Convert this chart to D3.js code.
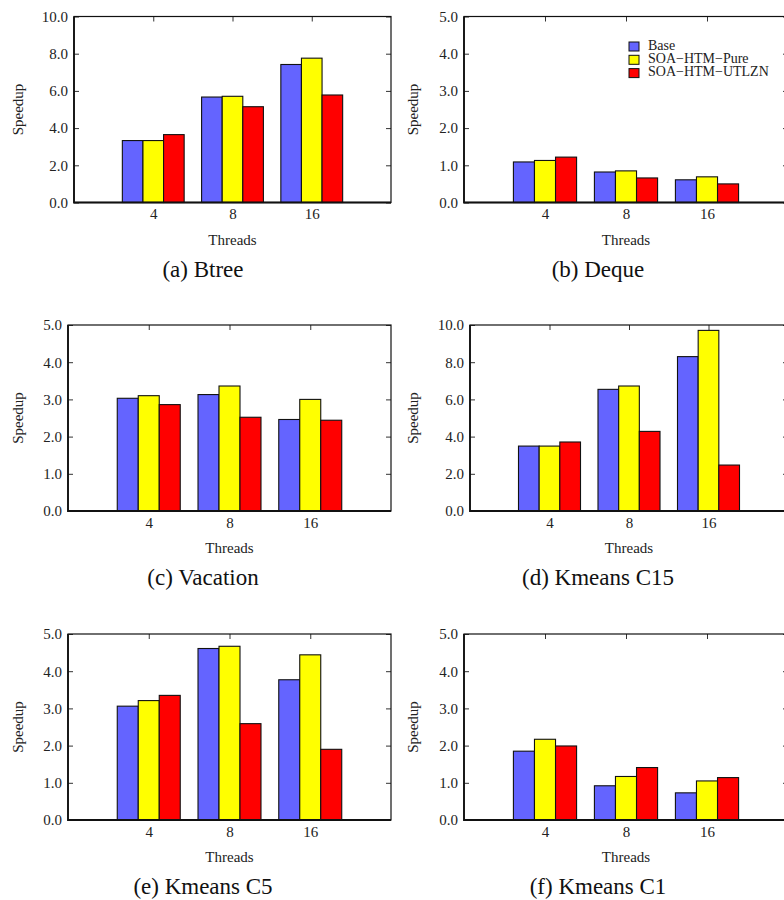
<!DOCTYPE html>
<html>
<head>
<meta charset="utf-8">
<script src="https://cdn.jsdelivr.net/npm/d3@7"></script>
<style>
  body { margin: 0; background: #fff; }
  svg { display: block; }
</style>
</head>
<body>
<svg id="chart"></svg>
<script>
// thread counts on the x axis
var threads = ["4", "8", "16"]
var seriesNames = ["Base", "SOA\u2212HTM\u2212Pure", "SOA\u2212HTM\u2212UTLZN"]

// speedup values, one array per series, per benchmark
var btreeBase  = [3.33, 5.67, 7.42]
var btreePure  = [3.33, 5.71, 7.76]
var btreeUtlzn = [3.65, 5.15, 5.78]

var dequeBase  = [1.09, 0.82, 0.61]
var dequePure  = [1.13, 0.85, 0.69]
var dequeUtlzn = [1.22, 0.66, 0.50]

var vacationBase  = [3.03, 3.13, 2.46]
var vacationPure  = [3.10, 3.36, 3.00]
var vacationUtlzn = [2.86, 2.52, 2.44]

var c15Base  = [3.49, 6.54, 8.30]
var c15Pure  = [3.49, 6.72, 9.71]
var c15Utlzn = [3.71, 4.28, 2.47]

var c5Base  = [3.06, 4.61, 3.77]
var c5Pure  = [3.21, 4.67, 4.44]
var c5Utlzn = [3.35, 2.59, 1.90]

var c1Base  = [1.85, 0.92, 0.73]
var c1Pure  = [2.17, 1.17, 1.05]
var c1Utlzn = [1.99, 1.41, 1.14]

// y axis ticks
var ticks10 = [0, 2, 4, 6, 8, 10]
var ticks5 = [0, 1, 2, 3, 4, 5]

var captions = ["(a) Btree", "(b) Deque", "(c) Vacation", "(d) Kmeans C15", "(e) Kmeans C5", "(f) Kmeans C1"]

var panels = [
  {caption: captions[0], series: [btreeBase, btreePure, btreeUtlzn], max: 10, ticks: ticks10, col: 0, row: 0},
  {caption: captions[1], series: [dequeBase, dequePure, dequeUtlzn], max: 5, ticks: ticks5, col: 1, row: 0, legend: true},
  {caption: captions[2], series: [vacationBase, vacationPure, vacationUtlzn], max: 5, ticks: ticks5, col: 0, row: 1},
  {caption: captions[3], series: [c15Base, c15Pure, c15Utlzn], max: 10, ticks: ticks10, col: 1, row: 1},
  {caption: captions[4], series: [c5Base, c5Pure, c5Utlzn], max: 5, ticks: ticks5, col: 0, row: 2},
  {caption: captions[5], series: [c1Base, c1Pure, c1Utlzn], max: 5, ticks: ticks5, col: 1, row: 2}
]

var dimensions = { width: 784, height: 900 }
var font = "'Liberation Serif', 'Times New Roman', serif"

var colors = d3.scaleOrdinal()
  .domain(seriesNames)
  .range(["#6464ff", "#ffff00", "#ff0000"])

var svg = d3.select("#chart")
  .attr("width", dimensions.width)
  .attr("height", dimensions.height)
  .style("font-family", font)

var rowTops = [16.5, 325, 634]
var plotHeight = 186
var colRights = [391, 788]
var barW = 0.26

panels.forEach(function(p) {
  var left = p.col == 0 ? (p.max == 10 ? 74 : 68) : (p.max == 10 ? 470 : 464)
  var right = colRights[p.col]
  var top = rowTops[p.row]
  var bottom = top + plotHeight

  var x = d3.scaleLinear().domain([0, 4]).range([left, right])
  var y = d3.scaleLinear().domain([0, p.max]).range([bottom, top])

  var g = svg.append("g")

  // y axis on the left, ticks pointing inward
  g.append("g")
    .attr("transform", "translate(" + left + ",0)")
    .call(d3.axisLeft(y).tickValues(p.ticks).tickSize(-5).tickPadding(6).tickFormat(d3.format(".1f")))
    .call(function(a) {
      a.select(".domain").remove()
      a.selectAll("line").attr("stroke", "#333")
      a.selectAll("text").style("font-family", font).style("font-size", "15px").attr("fill", "#222")
    })

  // mirrored ticks on the right
  g.append("g")
    .attr("transform", "translate(" + right + ",0)")
    .call(d3.axisRight(y).tickValues(p.ticks).tickSize(-5).tickFormat(""))
    .call(function(a) {
      a.select(".domain").remove()
      a.selectAll("line").attr("stroke", "#333")
    })

  // x ticks, bottom and top mirrored
  g.append("g")
    .attr("transform", "translate(0," + bottom + ")")
    .call(d3.axisBottom(x).tickValues([1, 2, 3]).tickSize(-5).tickPadding(6)
      .tickFormat(function(d) { return threads[d - 1] }))
    .call(function(a) {
      a.select(".domain").remove()
      a.selectAll("line").attr("stroke", "#333")
      a.selectAll("text").style("font-family", font).style("font-size", "15px").attr("fill", "#222")
    })

  g.append("g")
    .attr("transform", "translate(0," + top + ")")
    .call(d3.axisTop(x).tickValues([1, 2, 3]).tickSize(-5).tickFormat(""))
    .call(function(a) {
      a.select(".domain").remove()
      a.selectAll("line").attr("stroke", "#333")
    })

  // bars
  p.series.forEach(function(vals, si) {
    g.append("g")
      .selectAll("rect")
      .data(vals)
      .join("rect")
        .attr("x", function(d, i) { return x(i + 1 + (si - 1.5) * barW) })
        .attr("width", x(barW) - x(0))
        .attr("y", function(d) { return y(d) })
        .attr("height", function(d) { return y(0) - y(d) })
        .style("fill", colors(seriesNames[si]))
        .attr("stroke", "#111")
        .attr("stroke-width", 1.1)
  })

  // frame
  g.append("rect")
    .attr("x", left).attr("y", top)
    .attr("width", right - left).attr("height", plotHeight)
    .attr("fill", "none").attr("stroke", "#111").attr("stroke-width", 1.2)
  g.append("path")
    .attr("d", "M" + left + "," + top + "V" + bottom + "H" + right)
    .attr("fill", "none").attr("stroke", "#111").attr("stroke-width", 1.8)

  // axis titles
  g.append("text")
    .attr("transform", "translate(" + (p.col == 0 ? 23 : 418) + "," + ((top + bottom) / 2) + ") rotate(-90)")
    .attr("text-anchor", "middle")
    .style("font-size", "15px")
    .attr("fill", "#222")
    .text("Speedup")

  g.append("text")
    .attr("x", x(2))
    .attr("y", bottom + 42)
    .attr("text-anchor", "middle")
    .style("font-size", "15px")
    .attr("fill", "#222")
    .text("Threads")

  // caption
  g.append("text")
    .attr("x", p.col == 0 ? 203 : 598)
    .attr("y", bottom + 74)
    .attr("text-anchor", "middle")
    .style("font-size", "23px")
    .attr("fill", "#111")
    .text(p.caption)

  // legend
  if (p.legend) {
    var lg = g.append("g")
    lg.selectAll("rect")
      .data(seriesNames)
      .join("rect")
        .attr("x", 629)
        .attr("y", function(d, i) { return 42 + i * 13.3 })
        .attr("width", 10)
        .attr("height", 9)
        .style("fill", function(d) { return colors(d) })
        .attr("stroke", "#111")
    lg.selectAll("text")
      .data(seriesNames)
      .join("text")
        .attr("x", 648)
        .attr("y", function(d, i) { return 46.5 + i * 13.3 })
        .style("font-size", "14px")
        .attr("dominant-baseline", "middle")
        .attr("fill", "#222")
        .text(function(d) { return d })
  }
})
</script>
</body>
</html>
